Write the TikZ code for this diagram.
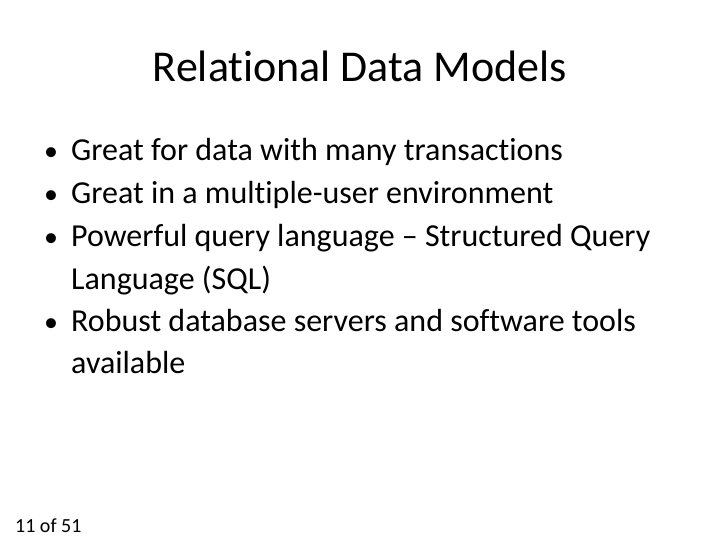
\documentclass[tikz,border=0pt]{standalone}
\usepackage{fontspec}
\setmainfont{Carlito}[RawFeature={-liga}]
\tikzset{
  titletext/.style={anchor=base, font=\fontsize{44}{52}\selectfont},
  itemtext/.style={anchor=base west, inner sep=0pt, font=\fontsize{32}{38}\selectfont},
  dot/.style={anchor=base west, inner sep=0pt, font=\fontsize{28}{34}\selectfont},
  foot/.style={anchor=base west, inner sep=0pt, font=\fontsize{20}{24}\selectfont}
}
\begin{document}
\begin{tikzpicture}[x=1pt,y=-1pt]
  \useasboundingbox (0,0) rectangle (720,540);

  \node[titletext] (title) at (360,82) {Relational Data Models};

  % bullets
  \node[dot] (d1) at (44,161) {•};
  \node[itemtext] (i1) at (71,161) {Great for data with many transactions};
  \node[dot] (d2) at (44,204) {•};
  \node[itemtext] (i2) at (71,204) {Great in a multiple-user environment};
  \node[dot] (d3) at (44,247) {•};
  \node[itemtext] (i3) at (71,247) {Powerful query language – Structured Query};
  \node[itemtext] (i3b) at (71,289) {Language (SQL)};
  \node[dot] (d4) at (44,331) {•};
  \node[itemtext] (i4) at (71,331) {Robust database servers and software tools};
  \node[itemtext] (i4b) at (71,373) {available};

  \node[foot] (page) at (15,532) {11 of 51};
\end{tikzpicture}
\end{document}
